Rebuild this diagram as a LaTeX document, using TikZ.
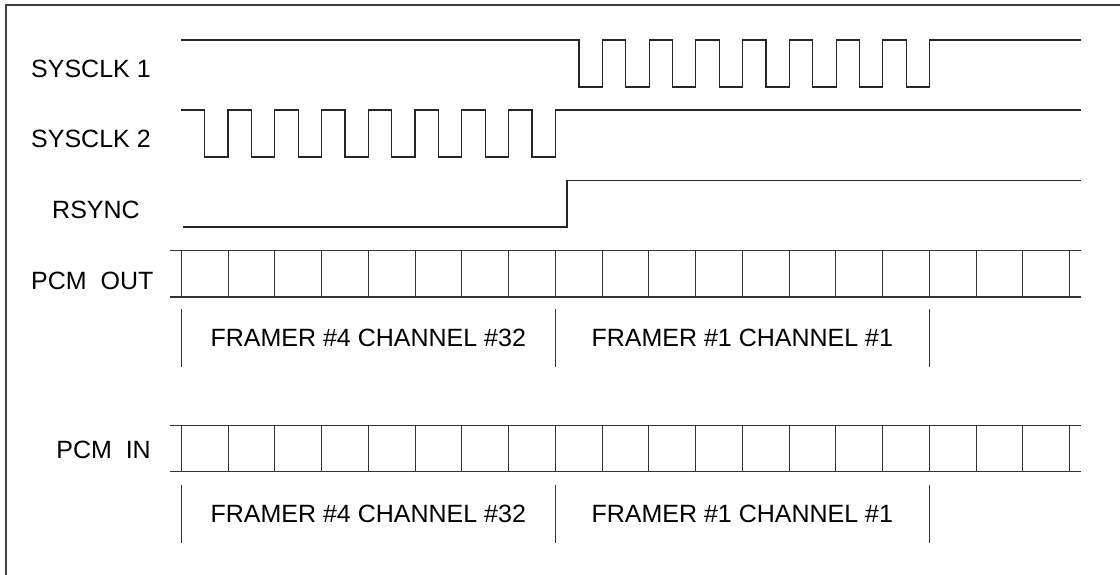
\documentclass[tikz,border=0pt]{standalone}
\usepackage{fontspec}
\setmainfont{Liberation Sans}
\begin{document}
\begin{tikzpicture}[x=1pt,y=-1pt,
  wave/.style={line width=1.1pt,black!85},
  grid/.style={line width=1.1pt,black!80},
  frame/.style={line width=1.3pt,black!75},
  lbl/.style={inner sep=0pt,font=\fontsize{25}{30}\selectfont}]
\useasboundingbox (0,0) rectangle (1120,575);
\def\P{46.75}
% outer frame (only top and left visible)
\draw[frame] (6,575) -- (6,5) -- (1120,5);
% labels
\node[lbl,anchor=west] (s1) at (31,69) {SYSCLK 1};
\node[lbl,anchor=west] (s2) at (31,139) {SYSCLK 2};
\node[lbl,anchor=west] (rs) at (52,210) {RSYNC};
\node[lbl,anchor=west] (po) at (31,281) {PCM~~OUT};
\node[lbl,anchor=east] (pi) at (151,450) {PCM~~IN};
% SYSCLK 1
\draw[wave] (181,40) \foreach \k in {0,...,7}{
  -- ({579+\P*\k},40) -- ({579+\P*\k},87) -- ({602.3+\P*\k},87) -- ({602.3+\P*\k},40)} -- (1081,40);
% SYSCLK 2
\draw[wave] (181,110) \foreach \k in {0,...,7}{
  -- ({204.7+\P*\k},110) -- ({204.7+\P*\k},157) -- ({228+\P*\k},157) -- ({228+\P*\k},110)} -- (1081,110);
% RSYNC
\draw[wave] (183,227) -- (567,227) -- (567,180.5) -- (1081,180.5);
% PCM OUT
\draw[grid] (170,250.5) -- (1081,250.5) (170,297) -- (1081,297);
\foreach \k in {0,...,19}{\draw[grid] ({181.3+\P*\k},250.5) -- ({181.3+\P*\k},297);}
\foreach \k in {0,8,16}{\draw[grid] ({181.3+\P*\k},309) -- ({181.3+\P*\k},367);}
\node[lbl] (fo1) at ({181.3+\P*4},338) {FRAMER \#4 CHANNEL \#32};
\node[lbl] (fo2) at ({181.3+\P*12},338) {FRAMER \#1 CHANNEL \#1};
% PCM IN
\draw[grid] (170,425.7) -- (1081,425.7) (170,471.7) -- (1081,471.7);
\foreach \k in {0,...,19}{\draw[grid] ({181.3+\P*\k},425.7) -- ({181.3+\P*\k},471.7);}
\foreach \k in {0,8,16}{\draw[grid] ({181.3+\P*\k},484.5) -- ({181.3+\P*\k},542.5);}
\node[lbl] (fi1) at ({181.3+\P*4},514) {FRAMER \#4 CHANNEL \#32};
\node[lbl] (fi2) at ({181.3+\P*12},514) {FRAMER \#1 CHANNEL \#1};
\end{tikzpicture}
\end{document}
